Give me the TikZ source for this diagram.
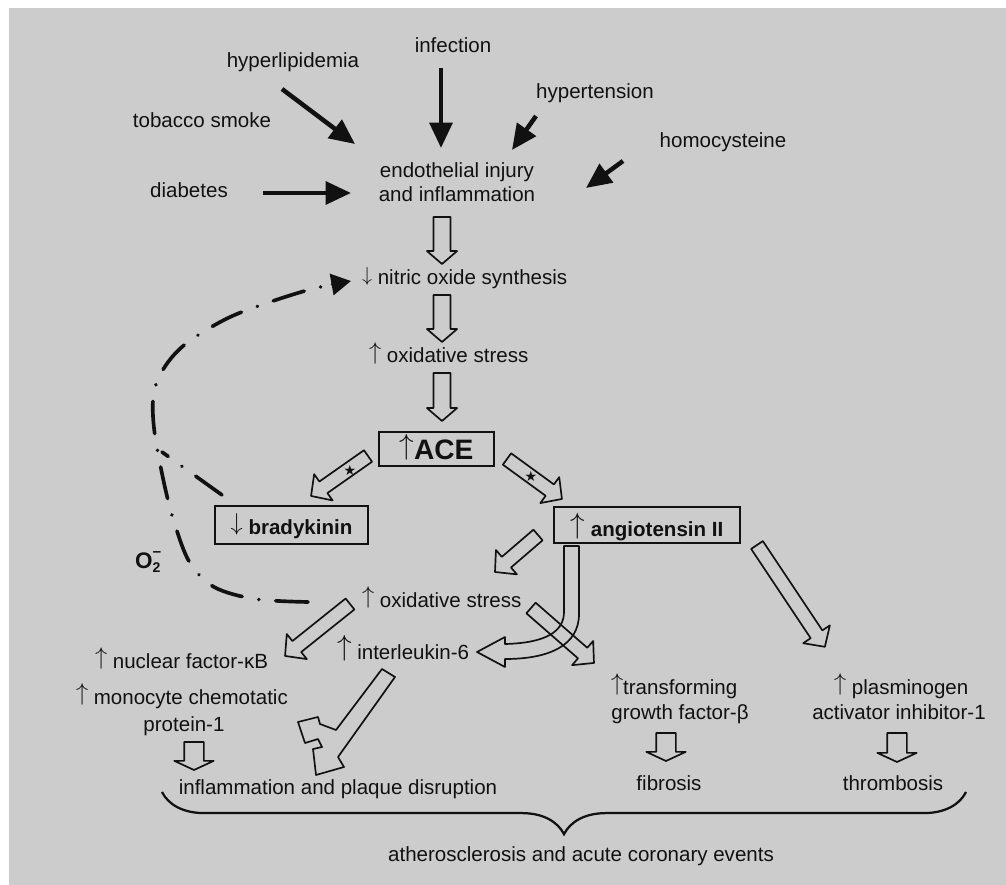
\documentclass[tikz,border=0pt]{standalone}
\usepackage{fontspec}
\setmainfont{Liberation Sans}
\newfontfamily\dejavu{DejaVu Sans}
\usetikzlibrary{arrows.meta,calc,decorations.pathreplacing}
\definecolor{bg}{HTML}{CCCCCC}
\definecolor{ink}{HTML}{111111}
% tall thin up/down arrows as in the figure
\newcommand\upa[1][18]{\raisebox{0.19em}{\fontsize{#1}{#1}\selectfont$\uparrow$}}
\newcommand\dna[1][18]{\raisebox{0.19em}{\fontsize{#1}{#1}\selectfont$\downarrow$}}
% hollow block arrow: tail, tip, shaft half-width, head half-width, head length
\newcommand\harrow[5]{%
  \draw[hollow] let \p1=(#1), \p2=(#2),
    \n1={atan2(\y2-\y1,\x2-\x1)}, \n2={veclen(\x2-\x1,\y2-\y1)} in
    [shift={(\p1)}, rotate=\n1]
    (0pt,-#3) -- (\n2-#5,-#3) -- (\n2-#5,-#4) -- (\n2+0pt,0pt) -- (\n2-#5,#4) -- (\n2-#5,#3) -- (0pt,#3) -- cycle;}
\tikzset{
  txt/.style={inner sep=0pt, outer sep=0pt, text=ink, font=\fontsize{14.6}{17}\selectfont},
  box/.style={draw=ink, line width=1.8pt, inner sep=0pt, text=ink},
  blk/.style={draw=ink, line width=3.2pt, -{Triangle[length=18pt,width=16pt]}},
  hollow/.style={draw=ink, line width=1.2pt, line join=round},
  dashdot/.style={draw=ink, line width=2.6pt, line cap=round, dash pattern=on 23pt off 12pt on 0.1pt off 12pt},
  bracestyle/.style={draw=ink, line width=1.6pt, decorate, decoration={brace, mirror, amplitude=30pt}},
  starmark/.style={inner sep=0pt, outer sep=0pt, text=ink, font=\dejavu\fontsize{10}{10}\selectfont},
}
\begin{document}
\begin{tikzpicture}[x=0.025cm, y=-0.025cm]
\useasboundingbox (0,0) rectangle (1006,885);
\fill[white] (0,0) rectangle (1006,885);
\fill[bg] (8.5,8) rectangle (1006,885);

% ---------- risk factor labels ----------
\node[txt, anchor=base] (inf) at (453,53) {infection};
\node[txt, anchor=base] (hyl) at (293,68) {hyperlipidemia};
\node[txt, anchor=base] (tob) at (202,128) {tobacco smoke};
\node[txt, anchor=base] (hyt) at (595,99) {hypertension};
\node[txt, anchor=base] (hom) at (723,148) {homocysteine};
\node[txt, anchor=base] (dia) at (189,198) {diabetes};
\node[txt, anchor=base] (endoA) at (457,178) {endothelial injury};
\node[txt, anchor=base] (endoB) at (457,202) {and inflammation};

% ---------- main chain ----------
\node[txt, anchor=base west] (no) at (362,285) {\dna[15]\ nitric oxide synthesis};
\node[txt, anchor=base west] (osA) at (369,363) {\upa\ oxidative stress};
\node[box, minimum width=81.8pt, minimum height=24.2pt, text height=19pt, text depth=3.4pt,
      font=\fontsize{20}{22}\selectfont\bfseries] (ace) at (436.5,449) {\upa[21]ACE};
\node[box, minimum width=108.8pt, minimum height=27pt, text height=17pt, text depth=3pt,
      font=\fontsize{14.6}{17}\selectfont\bfseries] (brady) at (291.5,525) {\dna\ bradykinin};
\node[box, minimum width=132.3pt, minimum height=25.6pt, text height=20pt, text depth=3pt,
      font=\fontsize{14.6}{17}\selectfont\bfseries] (ang) at (647,525) {\upa[21]\ angiotensin II};
\node[txt, anchor=base west] (osB) at (362,607) {\upa[16]\ oxidative stress};
\node[txt, anchor=base west] (il6) at (337,659) {\upa[20]\ interleukin-6};
\node[txt, anchor=base west] (nfkb) at (95,668) {\upa\ nuclear factor-κB};
\node[txt, anchor=base west] (mcpA) at (76,704) {\upa\ monocyte chemotatic};
\node[txt, anchor=base] (mcpB) at (184,731) {protein-1};
\node[txt, anchor=base west] (tgfA) at (611,694) {\upa transforming};
\node[txt, anchor=base] (tgfB) at (680,719) {growth factor-β};
\node[txt, anchor=base west] (paiA) at (834,694) {\upa\ plasminogen};
\node[txt, anchor=base] (paiB) at (899,719) {activator inhibitor-1};
\node[txt, anchor=base] (infl) at (338,794) {inflammation and plaque disruption};
\node[txt, anchor=base] (fib) at (669,790) {fibrosis};
\node[txt, anchor=base] (thr) at (893,790) {thrombosis};
\node[txt, anchor=base] (ath) at (581,861) {atherosclerosis and acute coronary events};
\node[txt, anchor=base west, font=\fontsize{16}{16}\selectfont\bfseries] (o2) at (135,568)
  {O\rlap{\raisebox{-0.4ex}{\fontsize{10}{10}\selectfont 2}}\raisebox{0.95ex}{\fontsize{11}{11}\selectfont\bfseries --}};

% ---------- black arrows ----------
\coordinate (infS) at (441,68);  \coordinate (infE) at (441,148);
\coordinate (hylS) at (282,89);  \coordinate (hylE) at (355,144);
\coordinate (hytS) at (536,116); \coordinate (hytE) at (512,150);
\coordinate (homS) at (623,161); \coordinate (homE) at (586,188);
\coordinate (diaS) at (263,193); \coordinate (diaE) at (351,193);
\draw[blk] (infS) -- (infE);
\draw[blk] (hylS) -- (hylE);
\draw[blk] (hytS) -- (hytE);
\draw[blk] (homS) -- (homE);
\draw[blk] (diaS) -- (diaE);

% ---------- hollow arrows ----------
\coordinate (v1s) at (442,217); \coordinate (v1e) at (442,264);
\coordinate (v2s) at (442,295); \coordinate (v2e) at (442,342);
\coordinate (v3s) at (442,373); \coordinate (v3e) at (442,421);
\harrow{v1s}{v1e}{6pt}{10.7pt}{9.2pt}
\harrow{v2s}{v2e}{6pt}{10.7pt}{9.2pt}
\harrow{v3s}{v3e}{6pt}{10.7pt}{9.2pt}

\coordinate (d1s) at (368,456); \coordinate (d1e) at (311,496);
\coordinate (d2s) at (507,459); \coordinate (d2e) at (562,499);
\coordinate (d3s) at (538,535); \coordinate (d3e) at (495,572);
\coordinate (d4s) at (757,545); \coordinate (d4e) at (825,647);
\coordinate (d5s) at (350,604); \coordinate (d5e) at (285,656);
\coordinate (d6s) at (531,608); \coordinate (d6e) at (594,663);
\harrow{d1s}{d1e}{5pt}{11.4pt}{10.7pt}
\harrow{d2s}{d2e}{5pt}{11.4pt}{10.7pt}
\harrow{d3s}{d3e}{5pt}{11.4pt}{10.7pt}
\harrow{d4s}{d4e}{5pt}{11.4pt}{10.7pt}
\harrow{d5s}{d5e}{5pt}{11.4pt}{10.7pt}
\harrow{d6s}{d6e}{5pt}{11.4pt}{10.7pt}
\node[starmark] (star1) at (350,470) {★};
\node[starmark] (star2) at (531,476) {★};

\coordinate (s1s) at (194,742); \coordinate (s1e) at (194,770);
\coordinate (s2s) at (666,733); \coordinate (s2e) at (666,761);
\coordinate (s3s) at (897,733); \coordinate (s3e) at (897,762);
\harrow{s1s}{s1e}{7pt}{14pt}{6.5pt}
\harrow{s2s}{s2e}{7pt}{14pt}{6.5pt}
\harrow{s3s}{s3e}{7pt}{14pt}{6.5pt}

% curved arrow angiotensin II -> interleukin-6
\draw[hollow] (564,546) -- (564,612) .. controls (564,632) and (545,643) .. (505,644)
  -- (505,637) -- (477,652) -- (505,667) -- (505,659)
  .. controls (550,659) and (579,645) .. (579,614) -- (579,546) -- cycle;

% forked arrow interleukin-6 -> inflammation and plaque disruption
\draw[hollow] (382,669) -- (395,677) -- (338,757) -- (344,767) -- (316,775) -- (313,749)
  -- (322,747) -- (318,739) -- (305,743) -- (298,722) -- (318,717) -- (320,724) -- (336,730) -- cycle;

% ---------- dash-dot feedback (superoxide) ----------
\coordinate (ddS) at (308,602);
\coordinate (ddE) at (351,281);
\coordinate (ddJ) at (162,452);
\coordinate (bkS) at (222,495);
\draw[dashdot, -{Triangle[length=14pt,width=15pt]}] plot[smooth, tension=0.55] coordinates
  {(ddS) (255,599) (214,587) (190,563) (175,525) (164,483) (154,428) (154,392) (166,365) (188,342) (228,318) (270,302) (312,289) (ddE)};
\draw[dashdot] (bkS) -- (ddJ);

% ---------- brace ----------
\coordinate (brL) at (162,792);
\coordinate (brR) at (966,792);
\draw[bracestyle] (brL) -- (brR);
\end{tikzpicture}
\end{document}
